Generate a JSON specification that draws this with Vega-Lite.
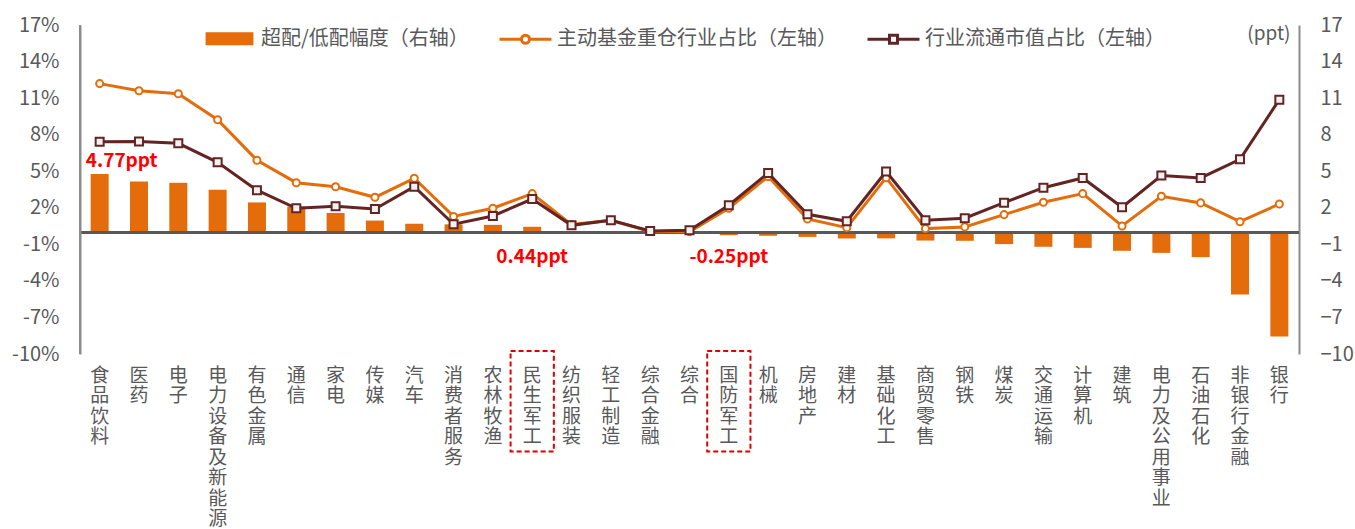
{
  "$schema": "https://vega.github.io/schema/vega-lite/v6.json",
  "width": 1219,
  "height": 329,
  "autosize": {"type": "none"},
  "padding": {"left": 80, "top": 25, "right": 56, "bottom": 175},
  "background": "white",
  "config": {
    "font": "Noto Sans CJK SC",
    "view": {"stroke": null},
    "axis": {"labelFont": "Noto Sans CJK SC", "labelColor": "#595959", "labelFontSize": 19, "grid": false, "ticks": false, "titleFont": "Noto Sans CJK SC"},
    "axisY": {"labelOverlap": false, "labelFontSize": 20, "domain": true, "domainColor": "#8C8C8C", "domainWidth": 2, "labelPadding": 21},
    "legend": {"labelFont": "Noto Sans CJK SC", "labelColor": "#595959", "labelFontSize": 20, "padding": 0, "labelLimit": 0}
  },
  "datasets": {
    "main": [
      {"ind": "食品饮料", "fund": 12.19, "mkt": 7.42, "diff": 4.77},
      {"ind": "医药", "fund": 11.6, "mkt": 7.44, "diff": 4.16},
      {"ind": "电子", "fund": 11.36, "mkt": 7.29, "diff": 4.05},
      {"ind": "电力设备及新能源", "fund": 9.23, "mkt": 5.73, "diff": 3.48},
      {"ind": "有色金属", "fund": 5.9, "mkt": 3.44, "diff": 2.44},
      {"ind": "通信", "fund": 4.06, "mkt": 1.96, "diff": 2.1},
      {"ind": "家电", "fund": 3.73, "mkt": 2.12, "diff": 1.58},
      {"ind": "传媒", "fund": 2.86, "mkt": 1.9, "diff": 0.95},
      {"ind": "汽车", "fund": 4.42, "mkt": 3.73, "diff": 0.69},
      {"ind": "消费者服务", "fund": 1.29, "mkt": 0.65, "diff": 0.64},
      {"ind": "农林牧渔", "fund": 1.96, "mkt": 1.33, "diff": 0.6},
      {"ind": "民生军工", "fund": 3.16, "mkt": 2.72, "diff": 0.44},
      {"ind": "纺织服装", "fund": 0.62, "mkt": 0.56, "diff": 0.06},
      {"ind": "轻工制造", "fund": 0.98, "mkt": 0.98, "diff": 0.0},
      {"ind": "综合金融", "fund": 0.06, "mkt": 0.1, "diff": -0.04},
      {"ind": "综合", "fund": 0.04, "mkt": 0.15, "diff": -0.11},
      {"ind": "国防军工", "fund": 1.96, "mkt": 2.21, "diff": -0.25},
      {"ind": "机械", "fund": 4.56, "mkt": 4.86, "diff": -0.3},
      {"ind": "房地产", "fund": 1.08, "mkt": 1.47, "diff": -0.39},
      {"ind": "建材", "fund": 0.37, "mkt": 0.89, "diff": -0.52},
      {"ind": "基础化工", "fund": 4.47, "mkt": 4.98, "diff": -0.51},
      {"ind": "商贸零售", "fund": 0.29, "mkt": 0.98, "diff": -0.69},
      {"ind": "钢铁", "fund": 0.43, "mkt": 1.14, "diff": -0.71},
      {"ind": "煤炭", "fund": 1.44, "mkt": 2.42, "diff": -0.98},
      {"ind": "交通运输", "fund": 2.45, "mkt": 3.65, "diff": -1.2},
      {"ind": "计算机", "fund": 3.16, "mkt": 4.45, "diff": -1.29},
      {"ind": "建筑", "fund": 0.51, "mkt": 2.04, "diff": -1.53},
      {"ind": "电力及公用事业", "fund": 2.94, "mkt": 4.64, "diff": -1.7},
      {"ind": "石油石化", "fund": 2.4, "mkt": 4.45, "diff": -2.05},
      {"ind": "非银行金融", "fund": 0.86, "mkt": 5.98, "diff": -5.12},
      {"ind": "银行", "fund": 2.31, "mkt": 10.87, "diff": -8.56}
    ],
    "legendRows": [
      {"s": "超配/低配幅度（右轴）"},
      {"s": "主动基金重仓行业占比（左轴）"},
      {"s": "行业流通市值占比（左轴）"}
    ],
    "boxes": [
      {"ind": "民生军工"},
      {"ind": "国防军工"}
    ],
    "notes": [
      {"ind": "食品饮料", "note": "4.77ppt", "v": 4.77, "pos": "top"},
      {"ind": "民生军工", "note": "0.44ppt", "v": 0.44, "pos": "below"},
      {"ind": "国防军工", "note": "-0.25ppt", "v": -0.25, "pos": "below"}
    ]
  },
  "layer": [
    {
      "layer": [
        {
          "data": {"name": "main"},
          "mark": {"type": "bar", "width": 18, "color": "#E46C0A"},
          "encoding": {
            "x": {
              "field": "ind", "type": "nominal", "sort": null,
              "scale": {"type": "band", "paddingInner": 0, "paddingOuter": 0},
              "axis": {"title": null, "labelExpr": "split(datum.label, '')", "labelAngle": 0, "domain": false, "labelPadding": 12, "labelBaseline": "top", "labelLineHeight": 20.5, "labelAlign": "center", "labelOverlap": false}
            },
            "y": {
              "field": "diff", "type": "quantitative",
              "scale": {"domain": [-10, 17], "nice": false, "zero": false},
              "axis": {"orient": "right", "values": [-10, -7, -4, -1, 2, 5, 8, 11, 14, 17], "title": "(ppt)", "titleAngle": 0, "titleX": -9, "titleY": 8, "titleAlign": "right", "titleBaseline": "middle", "titleFontSize": 19, "titleFontWeight": "normal", "titleColor": "#595959"}
            }
          }
        },
        {
          "data": {"name": "boxes"},
          "mark": {"type": "rule", "color": "#8C8C8C", "strokeWidth": 2},
          "encoding": {
            "x": {"datum": "食品饮料", "type": "nominal", "bandPosition": 0, "scale": {"type": "band", "paddingInner": 0, "paddingOuter": 0}},
            "y": {"datum": -10, "type": "quantitative", "scale": {"domain": [-10, 17], "nice": false, "zero": false},
              "axis": {"orient": "right", "values": [-10, -7, -4, -1, 2, 5, 8, 11, 14, 17], "title": "(ppt)", "titleAngle": 0, "titleX": -9, "titleY": 8, "titleAlign": "right", "titleBaseline": "middle", "titleFontSize": 19, "titleFontWeight": "normal", "titleColor": "#595959"}},
            "y2": {"datum": 17}
          }
        }
      ]
    },
    {
      "layer": [
        {
          "data": {"name": "main"},
          "mark": {"type": "rule", "color": "#595959", "strokeWidth": 2},
          "encoding": {
            "y": {"datum": 0, "type": "quantitative", "scale": {"domain": [-10, 17], "nice": false, "zero": false},
              "axis": {"orient": "left", "zindex": 1, "values": [-10, -7, -4, -1, 2, 5, 8, 11, 14, 17], "labelExpr": "datum.value + '%'", "title": null, "domain": true, "domainColor": "#8C8C8C", "domainWidth": 2}}
          }
        },
        {
          "data": {"name": "main"},
          "mark": {"type": "line", "color": "#E46C0A", "strokeWidth": 3, "point": {"filled": false, "fill": "white", "stroke": "#E46C0A", "strokeWidth": 2, "size": 50, "shape": "circle"}},
          "encoding": {
            "x": {"field": "ind", "type": "nominal", "sort": null, "scale": {"type": "band", "paddingInner": 0, "paddingOuter": 0}},
            "y": {
              "field": "fund", "type": "quantitative",
              "scale": {"domain": [-10, 17], "nice": false, "zero": false},
              "axis": {"orient": "left", "zindex": 1, "values": [-10, -7, -4, -1, 2, 5, 8, 11, 14, 17], "labelExpr": "datum.value + '%'", "title": null, "domain": true, "domainColor": "#8C8C8C", "domainWidth": 2}
            }
          }
        },
        {
          "data": {"name": "main"},
          "mark": {"type": "line", "color": "#632523", "strokeWidth": 3, "point": {"filled": false, "fill": "#F2F2F2", "stroke": "#632523", "strokeWidth": 2, "size": 64, "shape": "square"}},
          "encoding": {
            "x": {"field": "ind", "type": "nominal", "sort": null, "scale": {"type": "band", "paddingInner": 0, "paddingOuter": 0}},
            "y": {"field": "mkt", "type": "quantitative", "scale": {"domain": [-10, 17], "nice": false, "zero": false},
              "axis": {"orient": "left", "zindex": 1, "values": [-10, -7, -4, -1, 2, 5, 8, 11, 14, 17], "labelExpr": "datum.value + '%'", "title": null, "domain": true, "domainColor": "#8C8C8C", "domainWidth": 2}}
          }
        },
        {
          "data": {"name": "boxes"},
          "mark": {"type": "bar", "width": {"band": 1.1}, "fill": "transparent", "stroke": "#E00000", "strokeWidth": 2, "strokeDash": [5, 3]},
          "encoding": {
            "x": {"field": "ind", "type": "nominal", "sort": null, "scale": {"type": "band", "paddingInner": 0, "paddingOuter": 0}},
            "y": {"datum": -9.75, "type": "quantitative", "scale": {"domain": [-10, 17], "nice": false, "zero": false},
              "axis": {"orient": "left", "zindex": 1, "values": [-10, -7, -4, -1, 2, 5, 8, 11, 14, 17], "labelExpr": "datum.value + '%'", "title": null, "domain": true, "domainColor": "#8C8C8C", "domainWidth": 2}},
            "y2": {"datum": -18.0}
          }
        },
        {
          "data": {"name": "notes"},
          "transform": [{"filter": "datum.pos === 'top'"}],
          "mark": {"type": "text", "color": "#FF0000", "fontWeight": "bold", "fontSize": 19, "dx": 22, "dy": -13, "baseline": "middle"},
          "encoding": {
            "x": {"field": "ind", "type": "nominal", "sort": null, "scale": {"type": "band", "paddingInner": 0, "paddingOuter": 0}},
            "y": {"field": "v", "type": "quantitative", "scale": {"domain": [-10, 17], "nice": false, "zero": false},
              "axis": {"orient": "left", "zindex": 1, "values": [-10, -7, -4, -1, 2, 5, 8, 11, 14, 17], "labelExpr": "datum.value + '%'", "title": null, "domain": true, "domainColor": "#8C8C8C", "domainWidth": 2}},
            "text": {"field": "note"}
          }
        },
        {
          "data": {"name": "notes"},
          "transform": [{"filter": "datum.pos === 'below'"}],
          "mark": {"type": "text", "color": "#FF0000", "fontWeight": "bold", "fontSize": 19, "baseline": "middle"},
          "encoding": {
            "x": {"field": "ind", "type": "nominal", "sort": null, "scale": {"type": "band", "paddingInner": 0, "paddingOuter": 0}},
            "y": {"datum": -2.05, "type": "quantitative", "scale": {"domain": [-10, 17], "nice": false, "zero": false},
              "axis": {"orient": "left", "zindex": 1, "values": [-10, -7, -4, -1, 2, 5, 8, 11, 14, 17], "labelExpr": "datum.value + '%'", "title": null, "domain": true, "domainColor": "#8C8C8C", "domainWidth": 2}},
            "text": {"field": "note"}
          }
        },
        {
          "data": {"name": "legendRows"},
          "mark": {"type": "point", "opacity": 0, "filled": false},
          "encoding": {
            "color": {
              "field": "s", "type": "nominal",
              "scale": {"domain": ["超配/低配幅度（右轴）", "主动基金重仓行业占比（左轴）", "行业流通市值占比（左轴）"], "range": ["#E46C0A", "#E46C0A", "#632523"]},
              "legend": {
                "title": null, "orient": "none", "legendX": 122, "legendY": -14, "direction": "horizontal",
                "symbolSize": 2704, "symbolStrokeWidth": 3, "symbolOpacity": 1, "labelOffset": 4, "columnPadding": 24
              }
            },
            "shape": {
              "field": "s", "type": "nominal",
              "scale": {"domain": ["超配/低配幅度（右轴）", "主动基金重仓行业占比（左轴）", "行业流通市值占比（左轴）"],
                "range": [
                  "M-0.92,-0.19H0.92M-0.92,-0.115H0.92M-0.92,-0.04H0.92M-0.92,0.04H0.92M-0.92,0.115H0.92M-0.92,0.19H0.92",
                  "M-1,0H-0.154M0.154,0H1M0.154,0A0.154,0.154 0 1,1 -0.154,0A0.154,0.154 0 1,1 0.154,0Z",
                  "M-1,0H-0.154M0.154,0H1M-0.154,-0.154H0.154V0.154H-0.154Z"
                ]},
              "legend": {"title": null, "orient": "none", "legendX": 122, "legendY": -14, "direction": "horizontal", "symbolSize": 2704}
            }
          }
        }
      ]
    }
  ],
  "resolve": {"scale": {"y": "independent"}}
}
